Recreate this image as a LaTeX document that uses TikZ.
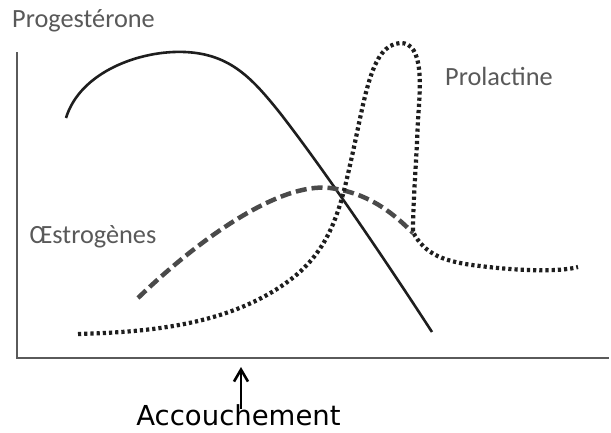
\documentclass[tikz,border=0pt]{standalone}
\usepackage{fontspec}
\usetikzlibrary{arrows.meta}
\setmainfont{Carlito}
\newfontfamily\accfont{DejaVu Sans}
\definecolor{labgray}{HTML}{595959}
\definecolor{axgray}{HTML}{5A5A5A}
\definecolor{curvedark}{HTML}{1E1E1E}
\definecolor{dashgray}{HTML}{4A4A4A}
\begin{document}
\begin{tikzpicture}[x=1pt,y=-1pt,
  lab/.style={font=\fontsize{26.3}{28}\selectfont, text=labgray, inner sep=0pt, anchor=base},
  axisline/.style={draw=axgray, line width=1.6pt},
  progcurve/.style={draw=curvedark, line width=2.6pt},
  estrocurve/.style={draw=dashgray, line width=4.5pt, dash pattern=on 11pt off 5pt},
  prolcurve/.style={draw=curvedark, line width=4.2pt, dash pattern=on 3.2pt off 3pt}]
\useasboundingbox (0,0) rectangle (611,432);
\fill[white] (0,0) rectangle (611,432);
% axes
\coordinate (ytop) at (17,52);
\coordinate (orig) at (17,358);
\coordinate (xend) at (609,358);
\draw[axisline] (ytop) -- (orig) -- (xend);
% labels
\node[lab] (prog) at (83.5,27) {Progestérone};
\node[lab] (prol) at (499,85) {Prolactine};
\node[lab] (estro) at (93,243) {Œstrogènes};
\node[font=\accfont\fontsize{27.5}{29}\selectfont, inner sep=0pt, anchor=base] (acc) at (238.5,425) {Accouchement};
\coordinate (acctip) at (241,367);
\draw[line width=2.6pt, -{Straight Barb[length=12pt,width=14pt,line width=2.6pt]}] (acc.north -| acctip) ++(0,5) -- (acctip);
% progesterone
\draw[progcurve] (66,118) .. controls (80,72) and (140,50) .. (185,52)
  .. controls (230,54) and (252,78) .. (280,113)
  .. controls (322,167) and (382,255) .. (432,332);
% estrogens
\draw[estrocurve] (138,298) .. controls (200,238) and (280,182) .. (330,188)
  .. controls (370,193) and (395,215) .. (413,233);
% prolactin
\draw[prolcurve] (78,334) .. controls (150,332) and (230,325) .. (290,280)
  .. controls (330,250) and (340,210) .. (350,165)
  .. controls (365,100) and (370,45) .. (400,43)
  .. controls (425,42) and (420,90) .. (418,120)
  .. controls (416,170) and (413,200) .. (413,232)
  .. controls (425,255) and (445,262) .. (480,266)
  .. controls (520,271) and (560,272) .. (578,267);
\end{tikzpicture}
\end{document}
